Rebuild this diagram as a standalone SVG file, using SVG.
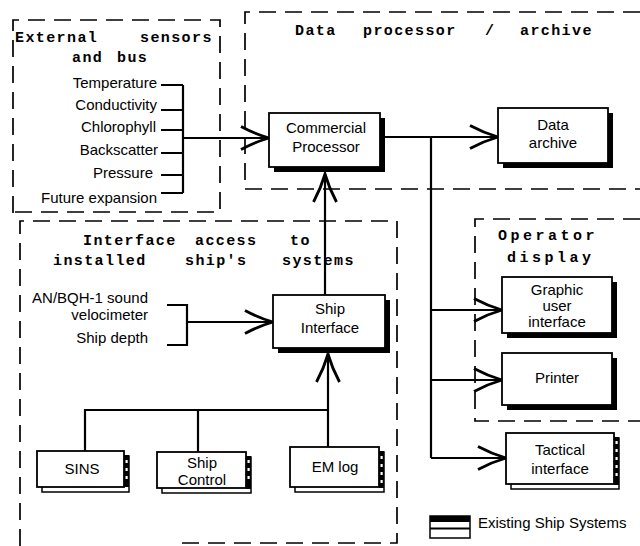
<svg xmlns="http://www.w3.org/2000/svg" width="640" height="546" viewBox="0 0 640 546">
<style>
.bg{fill:#fff}
.dash{fill:none;stroke:#000;stroke-width:1.7;stroke-dasharray:17 9}
.ttl{font-family:"Liberation Mono","DejaVu Sans Mono",monospace;font-size:15px;font-weight:bold;letter-spacing:1.4px;fill:#000}
.ttl2{letter-spacing:3.5px}
.lbl{font-family:"Liberation Sans",Arial,sans-serif;font-size:15px;fill:#000}
.c{text-anchor:middle}
.e{text-anchor:end}
.box{fill:#fff;stroke:#000;stroke-width:1.8}
.sh{fill:#000}
.back{fill:#fff;stroke:#000;stroke-width:1.5}
.strip{fill:#000}
.hole{fill:#fff}
.ln{fill:none;stroke:#000;stroke-width:2.2}
.arr{fill:none;stroke:#000;stroke-width:2.2;marker-end:url(#ah)}
</style>
<defs>
<marker id="ah" markerUnits="userSpaceOnUse" markerWidth="34" markerHeight="26" refX="29" refY="12" orient="auto" overflow="visible">
<path d="M1,0.5 Q15,8 29,12 Q15,16 1,23.5" fill="none" stroke="#000" stroke-width="2.8"/>
</marker>
</defs>
<rect class="bg" x="0" y="0" width="640" height="546"/>

<g id="group-external">
<path class="dash" d="M13,213 V20 H220 V212 H13"/>
<text class="ttl" x="15" y="42">External</text>
<text class="ttl" x="140" y="42">sensors</text>
<text class="ttl" x="72" y="62">and</text>
<text class="ttl" x="117" y="62">bus</text>
<text class="lbl e" x="157" y="88">Temperature</text>
<text class="lbl e" x="157" y="110">Conductivity</text>
<text class="lbl e" x="156" y="132">Chlorophyll</text>
<text class="lbl e" x="158" y="155">Backscatter</text>
<text class="lbl e" x="153" y="178">Pressure</text>
<text class="lbl e" x="157" y="203">Future expansion</text>
</g>

<g id="group-processor">
<path class="dash" d="M640,12 H245 V189 H640"/>
<text class="ttl" x="295" y="35">Data</text>
<text class="ttl" x="363" y="35">processor</text>
<text class="ttl" x="485" y="35">/</text>
<text class="ttl" x="520" y="35">archive</text>
</g>

<g id="group-interface">
<path class="dash" d="M20,546 V221 H397 V543 H180"/>
<text class="ttl" x="83" y="245">Interface</text>
<text class="ttl" x="195" y="245">access</text>
<text class="ttl" x="290" y="245">to</text>
<text class="ttl" x="53" y="265">installed</text>
<text class="ttl" x="185" y="265">ship's</text>
<text class="ttl" x="282" y="265">systems</text>
<text class="lbl e" x="148" y="303">AN/BQH-1 sound</text>
<text class="lbl e" x="148" y="320">velocimeter</text>
<text class="lbl e" x="148" y="343">Ship depth</text>
</g>

<g id="group-operator">
<path class="dash" d="M640,219 H475 V421 H640"/>
<text class="ttl ttl2" x="498" y="240">Operator</text>
<text class="ttl ttl2" x="507" y="262">display</text>
</g>

<g id="connectors">
<path class="ln" d="M161,85 H183 M161,110 H183 M161,130 H183 M161,153 H183 M161,175 H183 M161,193 H183 M183,85 V193"/>
<path class="arr" d="M183,138 H269"/>
<path class="arr" d="M380,137 H498"/>
<path class="ln" d="M431,137 V458"/>
<path class="arr" d="M431,310 H502"/>
<path class="arr" d="M431,380 H502"/>
<path class="arr" d="M431,458 H506"/>
<path class="arr" d="M325,295 V174"/>
<path class="ln" d="M167,305 H187 V345 H167"/>
<path class="arr" d="M187,322 H273"/>
<path class="arr" d="M328,447 V354"/>
<path class="ln" d="M85,451 V410 H328 M198,410 V452"/>
</g>

<g id="node-commercial">
<rect class="sh" x="274" y="118" width="111" height="54"/>
<rect class="box" x="269" y="113" width="111" height="54"/>
<text class="lbl c" x="326" y="133">Commercial</text>
<text class="lbl c" x="326" y="152">Processor</text>
</g>

<g id="node-archive">
<rect class="sh" x="503" y="113" width="110" height="55"/>
<rect class="box" x="498" y="108" width="110" height="55"/>
<text class="lbl c" x="553" y="130">Data</text>
<text class="lbl c" x="553" y="148">archive</text>
</g>

<g id="node-shipinterface">
<rect class="sh" x="278" y="300" width="112" height="53"/>
<rect class="box" x="273" y="295" width="112" height="53"/>
<text class="lbl c" x="330" y="314">Ship</text>
<text class="lbl c" x="330" y="333">Interface</text>
</g>

<g id="node-gui">
<rect class="sh" x="507" y="282" width="110" height="56"/>
<rect class="box" x="502" y="277" width="110" height="56"/>
<text class="lbl c" x="557" y="295">Graphic</text>
<text class="lbl c" x="557" y="311">user</text>
<text class="lbl c" x="557" y="327">interface</text>
</g>

<g id="node-printer">
<rect class="sh" x="507" y="358" width="110" height="52"/>
<rect class="box" x="502" y="353" width="110" height="52"/>
<text class="lbl c" x="557" y="383">Printer</text>
</g>

<g id="node-tactical">
<rect class="back" x="511" y="438" width="108" height="51"/>
<rect class="strip" x="614" y="437" width="5" height="48"/>
<rect class="hole" x="615.5" y="441" width="2.2" height="3"/>
<rect class="hole" x="615.5" y="449" width="2.2" height="3"/>
<rect class="hole" x="615.5" y="457" width="2.2" height="3"/>
<rect class="hole" x="615.5" y="465" width="2.2" height="3"/>
<rect class="hole" x="615.5" y="473" width="2.2" height="3"/>
<rect class="box" x="506" y="433" width="108" height="51"/>
<text class="lbl c" x="560" y="455">Tactical</text>
<text class="lbl c" x="560" y="474">interface</text>
</g>

<g id="node-sins">
<rect class="back" x="42" y="456" width="87" height="36"/>
<rect class="strip" x="124" y="455" width="5" height="32"/>
<rect class="hole" x="125.5" y="460" width="2.2" height="3"/>
<rect class="hole" x="125.5" y="468" width="2.2" height="3"/>
<rect class="hole" x="125.5" y="476" width="2.2" height="3"/>
<rect class="box" x="37" y="451" width="87" height="36"/>
<text class="lbl c" x="82" y="474">SINS</text>
</g>

<g id="node-shipcontrol">
<rect class="back" x="162" y="457" width="89" height="36"/>
<rect class="strip" x="246" y="456" width="5" height="33"/>
<rect class="hole" x="247.5" y="460" width="2.2" height="3"/>
<rect class="hole" x="247.5" y="468" width="2.2" height="3"/>
<rect class="hole" x="247.5" y="476" width="2.2" height="3"/>
<rect class="box" x="157" y="452" width="89" height="36"/>
<text class="lbl c" x="202" y="468">Ship</text>
<text class="lbl c" x="202" y="485">Control</text>
</g>

<g id="node-emlog">
<rect class="back" x="295" y="452" width="89" height="40"/>
<rect class="strip" x="379" y="451" width="5" height="37"/>
<rect class="hole" x="380.5" y="456" width="2.2" height="3"/>
<rect class="hole" x="380.5" y="464" width="2.2" height="3"/>
<rect class="hole" x="380.5" y="472" width="2.2" height="3"/>
<rect class="hole" x="380.5" y="480" width="2.2" height="3"/>
<rect class="box" x="290" y="447" width="89" height="40"/>
<text class="lbl c" x="335" y="472">EM log</text>
</g>

<g id="legend">
<rect class="back" x="430" y="516" width="40" height="22"/>
<rect class="sh" x="430" y="516" width="40" height="6"/>
<path class="ln" d="M430,528.5 H470" style="stroke-width:1.8"/>
<text class="lbl" x="478" y="528">Existing Ship Systems</text>
</g>
</svg>
